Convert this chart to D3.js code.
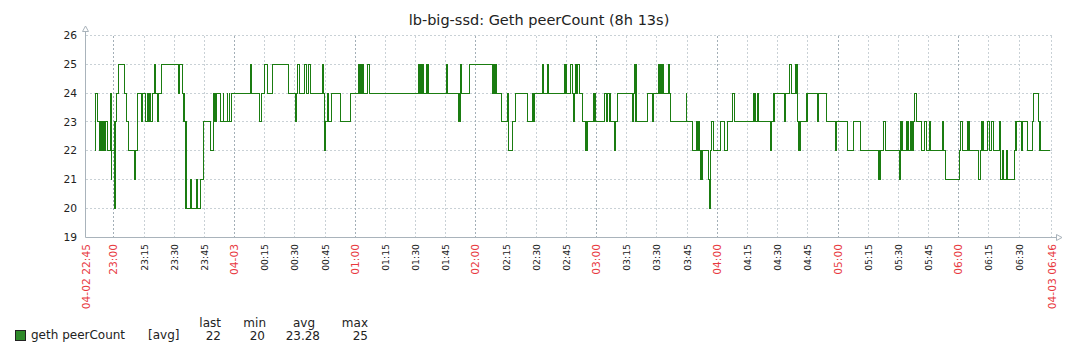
<!DOCTYPE html>
<html>
<head>
<meta charset="utf-8">
<script src="https://cdn.jsdelivr.net/npm/d3@7"></script>
<style>
  body { margin: 0; background: #fff; }
  svg { display: block; font-family: "DejaVu Sans", sans-serif; }
  .grid { stroke-dasharray: 2,2; shape-rendering: crispEdges; }
</style>
</head>
<body>
<div id="chart"></div>
<script>
// titulo y leyenda
var title = "lb-big-ssd: Geth peerCount (8h 13s)";
var seriesName = "geth peerCount";
var legendHeads = ["last", "min", "avg", "max"];
var legendValues = ["22", "20", "23.28", "25"];
var edgeLabels = ["04-02 22:45", "04-03 06:46"];
var yTicks = [19, 20, 21, 22, 23, 24, 25, 26];

// minutos desde 04-02 22:45 en que cambia el valor
var changeMin = [
  5.5, 5.7, 7.0, 8.0, 8.3, 8.7, 9.0, 9.4, 9.7, 10.1,
  10.4, 10.6, 10.8, 12.0, 13.5, 13.7, 14.0, 15.2, 15.4, 15.7,
  16.0, 16.5, 17.4, 20.4, 21.4, 22.4, 25.4, 25.9, 26.9, 28.9,
  29.2, 30.9, 31.9, 32.4, 32.9, 33.3, 34.3, 35.3, 35.8, 36.8,
  37.3, 38.8, 47.3, 47.8, 49.0, 49.9, 50.9, 53.1, 53.7, 56.2,
  56.7, 57.9, 59.7, 63.2, 64.7, 65.0, 65.4, 65.7, 66.0, 68.0,
  69.3, 69.6, 71.3, 71.6, 72.3, 72.6, 73.3, 83.0, 83.5, 87.5,
  88.5, 90.0, 91.5, 94.0, 102.0, 105.4, 105.8, 106.5, 107.1, 109.9,
  110.9, 111.9, 112.7, 118.8, 119.3, 119.8, 120.3, 121.2, 121.5, 123.0,
  127.8, 132.5, 136.9, 137.3, 137.7, 138.1, 138.4, 139.1, 141.2, 141.9,
  166.7, 167.1, 167.5, 167.9, 168.3, 168.7, 170.7, 171.2, 180.2, 180.7,
  186.6, 187.1, 187.4, 187.9, 191.9, 203.3, 204.0, 205.0, 207.8, 210.5,
  211.0, 211.3, 213.3, 214.8, 220.6, 223.2, 223.6, 223.9, 228.2, 228.7,
  230.7, 231.2, 239.3, 240.1, 242.1, 242.8, 243.6, 244.1, 244.4, 244.9,
  245.3, 246.3, 247.8, 249.7, 250.2, 253.7, 254.2, 259.0, 259.7, 260.2,
  261.3, 261.6, 261.9, 263.7, 264.2, 265.6, 272.9, 273.3, 273.9, 274.6,
  280.1, 282.6, 283.1, 285.6, 286.2, 286.9, 287.2, 287.5, 288.2, 290.8,
  291.3, 291.8, 299.6, 299.9, 302.7, 304.9, 305.9, 306.6, 307.4, 310.7,
  310.9, 311.4, 311.9, 312.9, 316.8, 318.8, 320.1, 322.6, 323.6, 333.0,
  333.4, 333.6, 333.9, 335.0, 335.7, 341.5, 342.0, 343.2, 348.4, 349.1,
  351.1, 351.9, 353.9, 354.6, 354.9, 355.6, 356.1, 359.6, 364.9, 365.4,
  369.3, 373.6, 374.3, 379.7, 382.8, 386.1, 395.2, 395.9, 397.7, 398.4,
  405.6, 406.0, 406.3, 406.8, 408.9, 409.8, 410.9, 411.3, 411.7, 412.1,
  412.6, 413.1, 414.2, 416.7, 418.0, 419.0, 420.4, 421.0, 427.0, 427.5,
  428.5, 435.6, 436.1, 436.9, 439.6, 440.1, 444.9, 445.9, 446.4, 447.1,
  449.4, 450.1, 451.5, 452.2, 455.5, 456.0, 456.6, 457.3, 458.8, 459.3,
  462.8, 463.5, 466.0, 466.6, 469.2, 471.9, 472.2, 474.7, 475.4, 480.5
];
var peerCount = [
  22, 24, 23, 22, 23, 22, 23, 22, 23, 22,
  23, 22, 23, 22, 24, 21, 22, 23, 20, 22,
  23, 24, 25, 24, 23, 22, 21, 22, 24, 23,
  24, 23, 24, 23, 24, 23, 24, 25, 24, 23,
  24, 25, 24, 25, 24, 23, 20, 21, 20, 21,
  20, 21, 23, 22, 24, 23, 24, 23, 24, 23,
  24, 23, 24, 23, 24, 23, 24, 25, 24, 23,
  24, 25, 24, 25, 24, 23, 24, 25, 24, 25,
  24, 25, 24, 25, 24, 22, 23, 24, 23, 24,
  23, 24, 25, 24, 25, 24, 25, 24, 25, 24,
  25, 24, 25, 24, 25, 24, 25, 24, 25, 24,
  23, 24, 25, 24, 25, 24, 25, 24, 23, 24,
  23, 22, 23, 24, 23, 24, 23, 24, 25, 24,
  25, 24, 25, 24, 25, 24, 23, 24, 25, 24,
  25, 24, 23, 22, 23, 24, 23, 24, 23, 24,
  23, 24, 23, 22, 23, 24, 23, 24, 25, 23,
  24, 23, 24, 25, 24, 25, 24, 25, 24, 25,
  24, 23, 24, 23, 22, 23, 22, 21, 22, 21,
  20, 22, 23, 22, 23, 22, 23, 24, 23, 24,
  23, 24, 23, 24, 23, 22, 23, 24, 23, 24,
  25, 24, 25, 24, 23, 22, 23, 24, 23, 24,
  23, 22, 23, 22, 23, 22, 21, 22, 23, 22,
  21, 22, 23, 22, 23, 22, 23, 22, 23, 22,
  23, 24, 23, 22, 23, 22, 23, 22, 23, 22,
  21, 22, 23, 22, 23, 22, 21, 22, 23, 22,
  23, 22, 23, 22, 23, 21, 22, 21, 22, 21,
  22, 23, 22, 23, 22, 23, 24, 23, 22, 22
];

var W = 1082, H = 354;
var base = new Date(2018, 3, 2, 22, 45, 0);
var start = new Date(base.getTime() + 70 * 1000);          // 22:46:10
var end = new Date(start.getTime() + (8 * 3600 + 13) * 1000); // + 8h 13s

var data = changeMin.map(function(m, i) {
  return { t: new Date(base.getTime() + m * 60000), v: peerCount[i] };
});

var xScale = d3.scaleTime().domain([start, end]).range([86, 1052]);
var yScale = d3.scaleLinear().domain([19, 26]).range([237, 35.5]);

var axisColor = "#a9b3bb", gridColor = "#c9d1d6", hourColor = "#a3afb7";
var red = "#e8393f", txt = "#222";

var svg = d3.select("#chart").append("svg")
  .attr("width", W).attr("height", H);
svg.append("rect").attr("width", W).attr("height", H).attr("fill", "#fff");

// titulo
svg.append("text")
  .attr("x", 539).attr("y", 24.5)
  .attr("text-anchor", "middle")
  .attr("font-size", "14.5px")
  .attr("fill", txt)
  .text(title);

// rejilla horizontal
svg.append("g").selectAll("line")
  .data(yTicks.slice(1))
  .enter().append("line")
  .attr("class", "grid")
  .attr("x1", 86).attr("x2", 1052)
  .attr("y1", function(d) { return Math.floor(yScale(d)) + 0.5; })
  .attr("y2", function(d) { return Math.floor(yScale(d)) + 0.5; })
  .attr("stroke", gridColor);

// rejilla vertical cada 15 min (sin las que quedan pegadas a los bordes)
var ticks = xScale.ticks(d3.timeMinute.every(15)).filter(function(d) {
  return xScale(d) > 96 && xScale(d) < 1040;
});
svg.append("g").selectAll("line")
  .data(ticks)
  .enter().append("line")
  .attr("class", "grid")
  .attr("x1", function(d) { return Math.floor(xScale(d)) + 0.5; })
  .attr("x2", function(d) { return Math.floor(xScale(d)) + 0.5; })
  .attr("y1", 36).attr("y2", 237)
  .attr("stroke", function(d) { return d.getMinutes() === 0 ? hourColor : gridColor; });
svg.append("line")
  .attr("class", "grid")
  .attr("x1", 1051.5).attr("x2", 1051.5)
  .attr("y1", 36).attr("y2", 237)
  .attr("stroke", gridColor);

// serie
var line = d3.line()
  .x(function(d) { return xScale(d.t); })
  .y(function(d) { return yScale(d.v); })
  .curve(d3.curveStepAfter);
svg.append("path")
  .datum(data)
  .attr("d", line)
  .attr("fill", "none")
  .attr("stroke", "#1a7c11")
  .attr("stroke-width", 1.1)
  .attr("shape-rendering", "crispEdges");

// ejes con flechas
svg.append("line").attr("x1", 85.5).attr("x2", 85.5).attr("y1", 31).attr("y2", 237.5)
  .attr("stroke", axisColor);
svg.append("line").attr("x1", 85.5).attr("x2", 1056).attr("y1", 237.5).attr("y2", 237.5)
  .attr("stroke", axisColor);
svg.append("path").attr("d", "M82.5,31.5L88.5,31.5L85.5,26Z")
  .attr("fill", "#fff").attr("stroke", axisColor);
svg.append("path").attr("d", "M1056.5,234.5L1056.5,240.5L1062,237.5Z")
  .attr("fill", "#fff").attr("stroke", axisColor);

// etiquetas eje Y
svg.append("g").selectAll("text")
  .data(yTicks)
  .enter().append("text")
  .attr("x", 77)
  .attr("y", function(d) { return yScale(d); })
  .attr("dy", "0.36em")
  .attr("text-anchor", "end")
  .attr("font-size", "10.7px")
  .attr("fill", txt)
  .text(function(d) { return d; });

// etiquetas eje X (giradas)
var fmtHour = d3.timeFormat("%H:%M"), fmtDay = d3.timeFormat("%m-%d");
svg.append("g").selectAll("text")
  .data(ticks)
  .enter().append("text")
  .attr("transform", function(d) {
    return "translate(" + (Math.floor(xScale(d)) + 0.5) + ",244) rotate(-90)";
  })
  .attr("dy", "0.36em")
  .attr("text-anchor", "end")
  .attr("font-size", function(d) { return d.getMinutes() === 0 ? "10.7px" : "9.3px"; })
  .attr("fill", function(d) { return d.getMinutes() === 0 ? red : txt; })
  .text(function(d) {
    if (d.getHours() === 0 && d.getMinutes() === 0) return fmtDay(d);
    return fmtHour(d);
  });
svg.append("g").selectAll("text")
  .data([start, end])
  .enter().append("text")
  .attr("transform", function(d) { return "translate(" + xScale(d) + ",244) rotate(-90)"; })
  .attr("dy", "0.36em")
  .attr("text-anchor", "end")
  .attr("font-size", "10.7px")
  .attr("fill", red)
  .text(function(d, i) { return edgeLabels[i]; });

// leyenda
var headX = [221, 266, 315, 368];
var valX = [221, 265, 320, 368];
svg.append("rect")
  .attr("x", 15.5).attr("y", 330.5).attr("width", 10).attr("height", 10)
  .attr("fill", "#2e8a2a").attr("stroke", "#222");
svg.append("text").attr("x", 31).attr("y", 339).attr("font-size", "12px")
  .attr("fill", txt).text(seriesName);
svg.append("text").attr("x", 148).attr("y", 339).attr("font-size", "12px")
  .attr("fill", txt).text("[avg]");
svg.append("g").selectAll("text")
  .data(legendHeads)
  .enter().append("text")
  .attr("x", function(d, i) { return headX[i]; })
  .attr("y", 326.5)
  .attr("text-anchor", "end")
  .attr("font-size", "12px")
  .attr("fill", txt)
  .text(function(d) { return d; });
svg.append("g").selectAll("text")
  .data(legendValues)
  .enter().append("text")
  .attr("x", function(d, i) { return valX[i]; })
  .attr("y", 339.5)
  .attr("text-anchor", "end")
  .attr("font-size", "12px")
  .attr("fill", txt)
  .text(function(d) { return d; });
</script>
</body>
</html>
